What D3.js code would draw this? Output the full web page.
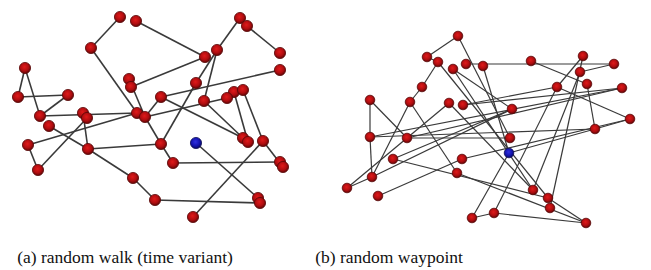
<!DOCTYPE html>
<html>
<head>
<meta charset="utf-8">
<script src="https://cdn.jsdelivr.net/npm/d3@7"></script>
<style>
  html, body { margin: 0; padding: 0; background: #fff; }
  svg { display: block; }
</style>
</head>
<body>
<svg id="chart" width="651" height="270"></svg>
<script>
// ---- Data: node positions (simulation area units) and links ----
const captions = ["(a) random walk (time variant)", "(b) random waypoint"];

// Panel (a): random walk (time variant)
const walkNodes = [
  [110,7],[126,11],[81,38],[15,58],[119,69],[121,77],[8,87],[58,85],[30,106],[39,116],
  [73,103],[77,108],[127,103],[135,107],[151,87],[230,8],[237,16],[270,43],[270,60],[207,40],
  [195,47],[186,73],[194,91],[224,82],[233,80],[217,88],[18,135],[28,160],[78,139],[151,134],
  [123,168],[145,190],[163,153],[233,128],[238,132],[253,131],[270,152],[273,157],[248,188],[250,193],
  [183,207],[186,133]
];
const walkLinks = [
  [0,2],[2,12],[1,20],[3,6],[3,8],[6,7],[7,8],[8,12],[4,13],[5,20],[13,25],[14,18],[16,17],
  [15,19],[19,21],[21,29],[19,22],[22,33],[14,33],[23,34],[24,35],[13,29],[29,32],[32,36],
  [35,37],[35,40],[41,38],[31,39],[30,31],[28,30],[28,29],[28,10],[9,28],[26,27],[26,12],
  [27,11],[13,14]
];
const walkMobile = 41;

// Panel (b): random waypoint
const waypointNodes = [
  [118,6],[87,27],[98,32],[113,39],[126,34],[143,36],[82,57],[30,70],[70,72],[109,73],
  [123,75],[191,31],[243,26],[274,34],[240,42],[247,54],[282,58],[217,57],[172,79],[290,89],
  [255,99],[30,107],[67,108],[170,108],[53,129],[122,129],[117,143],[32,147],[7,158],[38,166],
  [132,188],[154,183],[193,160],[208,168],[210,178],[246,193],[169,123]
];
const waypointLinks = [
  [0,1],[1,2],[2,6],[6,8],[0,23],[5,36],[4,13],[11,15],[12,34],[15,20],[17,19],[19,20],
  [20,36],[21,20],[22,23],[22,16],[7,21],[21,27],[7,22],[8,27],[8,26],[27,28],[28,9],
  [24,18],[24,33],[29,25],[26,35],[36,30],[30,31],[31,35],[31,17],[33,35],[3,18],[10,17],
  [10,16],[14,13],[12,17],[32,14],[3,32],[21,16],[2,33],[27,18],[25,19],[9,32]
];
const waypointMobile = 36;

// ---- Drawing ----
const svg = d3.select("#chart");
const defs = svg.append("defs");

function addGrad(id, c0, c1, c2) {
  const g = defs.append("radialGradient").attr("id", id)
    .attr("cx", "45%").attr("cy", "40%").attr("r", "60%");
  g.append("stop").attr("offset", "0%").attr("stop-color", c0);
  g.append("stop").attr("offset", "60%").attr("stop-color", c1);
  g.append("stop").attr("offset", "100%").attr("stop-color", c2);
}
addGrad("gRed", "#e01a1a", "#b00d10", "#5e0606");
addGrad("gBlue", "#3030e0", "#1414b0", "#080860");

const panels = [
  { nodes: walkNodes, links: walkLinks, mobile: walkMobile,
    x: d3.scaleLinear().domain([0, 280]).range([10, 290]),
    y: d3.scaleLinear().domain([0, 215]).range([10, 225]),
    r: 5.6, lw: 1.6, caption: captions[0], cx: 125 },
  { nodes: waypointNodes, links: waypointLinks, mobile: waypointMobile,
    x: d3.scaleLinear().domain([0, 300]).range([340, 640]),
    y: d3.scaleLinear().domain([0, 200]).range([30, 230]),
    r: 4.8, lw: 1.2, caption: captions[1], cx: 389 }
];

panels.forEach(p => {
  const g = svg.append("g");
  g.selectAll("line.link").data(p.links).join("line")
    .attr("class", "link")
    .attr("x1", d => p.x(p.nodes[d[0]][0]))
    .attr("y1", d => p.y(p.nodes[d[0]][1]))
    .attr("x2", d => p.x(p.nodes[d[1]][0]))
    .attr("y2", d => p.y(p.nodes[d[1]][1]))
    .attr("stroke", "#3a3a3a")
    .attr("stroke-width", p.lw);

  g.selectAll("circle.node").data(p.nodes).join("circle")
    .attr("class", "node")
    .attr("cx", d => p.x(d[0]))
    .attr("cy", d => p.y(d[1]))
    .attr("r", p.r)
    .attr("fill", (d, i) => i === p.mobile ? "url(#gBlue)" : "url(#gRed)")
    .attr("stroke", (d, i) => i === p.mobile ? "#10105a" : "#5a0808")
    .attr("stroke-width", 0.8);

  svg.append("text")
    .attr("x", p.cx)
    .attr("y", 263)
    .attr("text-anchor", "middle")
    .attr("font-family", "'Liberation Serif', 'Times New Roman', serif")
    .attr("font-size", 17.5)
    .attr("fill", "#111")
    .text(p.caption);
});
</script>
</body>
</html>
